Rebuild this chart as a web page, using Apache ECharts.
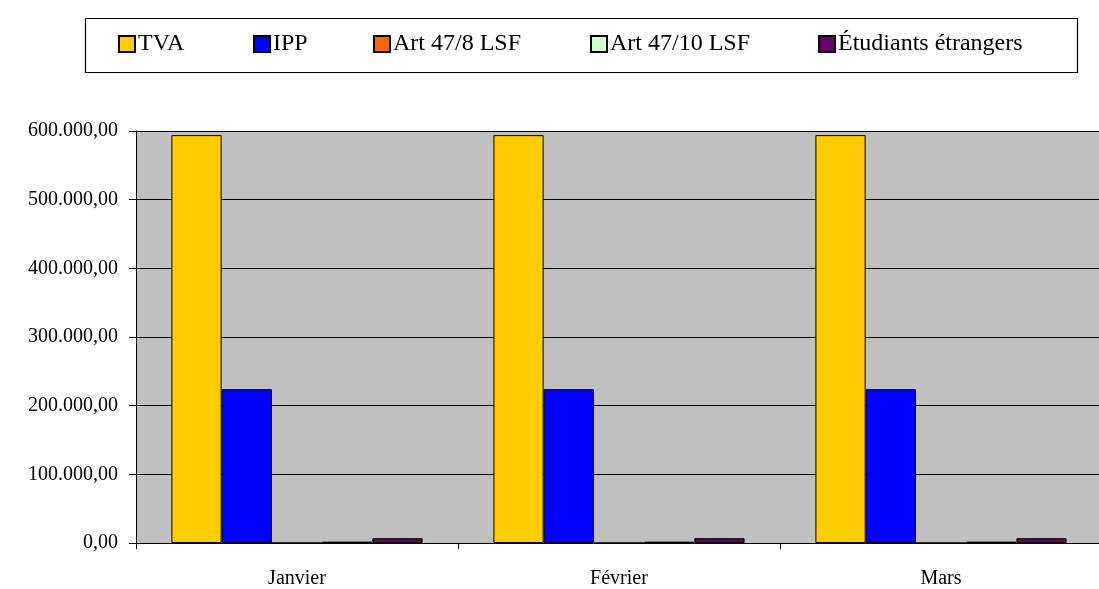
<!DOCTYPE html>
<html>
<head>
<meta charset="utf-8">
<script src="https://cdn.jsdelivr.net/npm/echarts@6/dist/echarts.min.js"></script>
<style>
  html, body { margin: 0; padding: 0; background: #fff; }
  #chart { width: 1099px; height: 589px; }
</style>
</head>
<body>
<div id="chart"></div>
<script>
// categories and series values
var months = ['Janvier', 'Février', 'Mars'];
var seriesNames = ['TVA', 'IPP', 'Art 47/8 LSF', 'Art 47/10 LSF', 'Étudiants étrangers'];
var tva = [594000, 594000, 594000];
var ipp = [224000, 224000, 224000];
var art478 = [0, 0, 0];
var art4710 = [2000, 2000, 2000];
var etudiants = [7000, 7000, 7000];
var yTicks = [0, 100000, 200000, 300000, 400000, 500000, 600000];

var colors = ['#FFCC00', '#0000FF', '#FF6600', '#CCFFCC', '#660066'];
var legendLeft = [118, 253, 373, 590, 818];
var values = [tva, ipp, art478, art4710, etudiants];

var font = '"Liberation Serif", "Times New Roman", serif';

function fmt(v) {
  // 600000 -> 600.000,00
  var s = String(Math.round(v));
  var out = s.replace(/\B(?=(\d{3})+(?!\d))/g, '.');
  return out + ',00';
}

var chart = echarts.init(document.getElementById('chart'));

var legends = seriesNames.map(function (name, i) {
  return {
    data: [name],
    left: legendLeft[i],
    top: 32,
    padding: 0,
    itemWidth: 16,
    itemHeight: 16,
    icon: 'rect',
    selectedMode: false,
    textStyle: { fontFamily: font, fontSize: 24, color: '#000', padding: [1, 0, 0, -2] }
  };
});

var series = seriesNames.map(function (name, i) {
  return {
    name: name,
    type: 'bar',
    barGap: 0,
    barCategoryGap: '22%',
    itemStyle: { color: colors[i], borderColor: '#000', borderWidth: 1 },
    emphasis: { disabled: true },
    data: values[i]
  };
});

// legend frame, drawn as one closed polyline
var frame = [[85.5, 18.5], [1077.5, 18.5], [1077.5, 72.5], [85.5, 72.5], [85.5, 18.5]];

var option = {
  animation: false,
  backgroundColor: '#fff',
  graphic: [{
    type: 'polyline',
    shape: { points: frame },
    style: { fill: null, stroke: '#000', lineWidth: 1.2 },
    silent: true,
    z: 100
  }],
  legend: legends,
  grid: {
    left: 136,
    top: 131,
    bottom: 46,
    width: 966,
    containLabel: false,
    outerBoundsMode: 'none',
    show: true,
    backgroundColor: '#C0C0C0',
    borderWidth: 0
  },
  xAxis: {
    type: 'category',
    data: months,
    axisLine: { lineStyle: { color: '#000', width: 1 } },
    axisTick: { show: true, length: 6, lineStyle: { color: '#000' } },
    axisLabel: { fontFamily: font, fontSize: 20, color: '#000', margin: 26 }
  },
  yAxis: {
    type: 'value',
    min: yTicks[0],
    max: yTicks[yTicks.length - 1],
    interval: 100000,
    axisLine: { show: true, lineStyle: { color: '#000', width: 1 } },
    axisTick: { show: true, length: 7, lineStyle: { color: '#000' } },
    splitLine: { show: true, lineStyle: { color: '#000', width: 1 } },
    axisLabel: { fontFamily: font, fontSize: 20, color: '#000', margin: 18, formatter: fmt }
  },
  series: series
};

chart.setOption(option);
</script>
</body>
</html>
